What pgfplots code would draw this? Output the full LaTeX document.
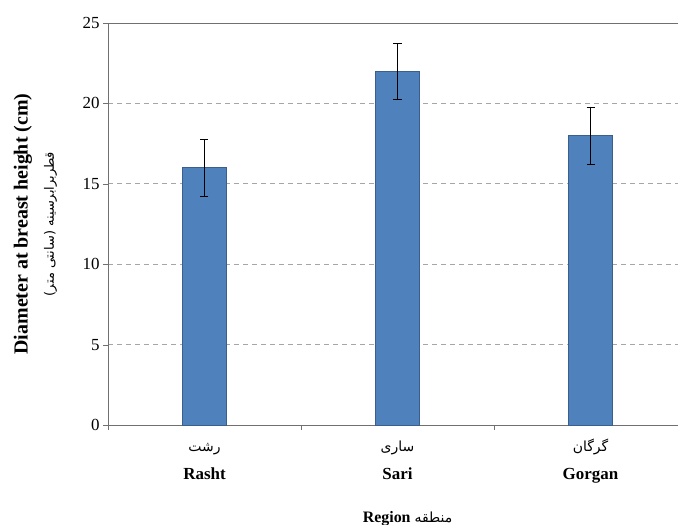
\documentclass[border=0pt]{standalone}
\usepackage{pgfplots}
\pgfplotsset{compat=1.18}
\usepackage{fontspec}
\setmainfont{Liberation Serif}
\newfontfamily\arabicfont[Script=Arabic]{DejaVu Sans}
\TeXXeTstate=1

\definecolor{barblue}{HTML}{4F81BD}
\definecolor{baredge}{HTML}{3A5F8C}
\definecolor{gridgray}{HTML}{A6A6A6}
\definecolor{axisgray}{HTML}{707070}

\begin{document}
\begin{tikzpicture}
\begin{axis}[
    scale only axis,
    width=579bp, height=402bp,
    ybar, bar width=44bp,
    xmin=-0.5, xmax=2.5,
    ymin=0, ymax=25,
    xtick={0,1,2},
    xticklabels={
        {\rule{0pt}{21bp}{\arabicfont\fontsize{14}{16}\selectfont\beginR رشت\endR}\\\textbf{Rasht}},
        {\rule{0pt}{21bp}{\arabicfont\fontsize{14}{16}\selectfont\beginR ساری\endR}\\\textbf{Sari}},
        {\rule{0pt}{21bp}{\arabicfont\fontsize{14}{16}\selectfont\beginR گرگان\endR}\\\textbf{Gorgan}}},
    minor xtick={-0.5,0.5,1.5},
    major x tick style={draw=none},
    minor x tick style={axisgray},
    ytick={0,5,...,25},
    y tick style={axisgray},
    tick align=outside,
    major tick length=5bp, minor tick length=5bp,
    xtick pos=bottom, ytick pos=left,
    ymajorgrids,
    major grid style={gridgray, dashed, line width=0.9pt, dash pattern=on 5bp off 4bp},
    axis line style={axisgray, line width=0.9pt},
    /pgf/number format/assume math mode=true,
    yticklabel style={font=\fontsize{17}{20}\selectfont},
    xticklabel style={align=center, anchor=north, inner sep=0pt,
        font=\fontsize{17}{28}\selectfont},
    ylabel={\fontsize{20}{24}\selectfont\textbf{Diameter at breast height (cm)}\\[11bp]
            {\arabicfont\fontsize{13}{16}\selectfont\beginR قطربرابرسینه (سانتی متر)\endR}},
    ylabel style={align=center, at={(axis description cs:-0.082,0.5)}, anchor=south},
    xlabel={\fontsize{16}{18}\selectfont\textbf{Region} {\arabicfont\fontsize{14}{16}\selectfont\beginR منطقه\endR}},
    xlabel style={at={(axis description cs:0.5,-0.233)}, anchor=center, xshift=10bp},
]
\addplot[fill=barblue, draw=baredge, line width=0.6pt,
    error bars/.cd, y dir=both, y explicit,
    error bar style={black, line width=0.6pt},
    error mark options={rotate=90, black, mark size=4bp, line width=0.6pt}]
    coordinates {
        (0,16) +- (0,1.78)
        (1,22) +- (0,1.75)
        (2,18) +- (0,1.78)
    };
\end{axis}
\pgfresetboundingbox
\path[use as bounding box] (-108bp,-100bp) rectangle (570bp,425bp);
\end{tikzpicture}
\end{document}
